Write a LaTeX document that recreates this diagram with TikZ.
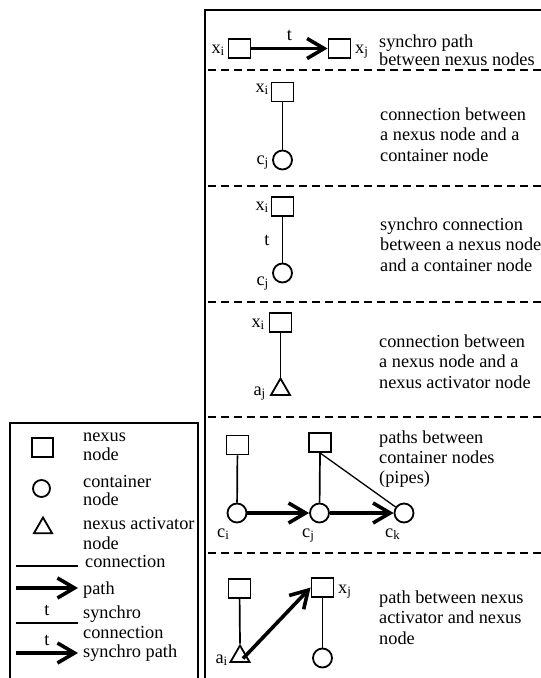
\documentclass[tikz,border=0pt]{standalone}
\usepackage{fontspec}
\setmainfont{Liberation Serif}
\usetikzlibrary{arrows.meta,shapes.geometric}
\begin{document}
\begin{tikzpicture}[x=1pt,y=-1pt,
  font=\fontsize{18.3}{20.5}\selectfont,
  nexus/.style={draw,rectangle,minimum width=22pt,minimum height=19pt,inner sep=0pt,line width=1.8pt},
  cont/.style={draw,circle,minimum size=19pt,inner sep=0pt,line width=1.8pt},
  activ/.style={draw,regular polygon,regular polygon sides=3,minimum size=22pt,inner sep=0pt,line width=1.8pt},
  conn/.style={line width=1.7pt},
  thinconn/.style={line width=1.3pt},
  pathar/.style={line width=3.6pt,-{Straight Barb[length=17pt,width=20pt]}},
  sepline/.style={line width=2.5pt,dash pattern=on 8pt off 5pt},
  framel/.style={line width=1.9pt},
  lbl/.style={inner sep=0pt},
  desctext/.style={inner sep=0pt,align=left,anchor=north west},
]
\useasboundingbox (0,0) rectangle (541,678);

% frames
\draw[framel] (205,678) -- (205,10) -- (541,10);
\draw[framel] (10,678) -- (10,423) -- (198,423) -- (198,678);
\foreach \yy in {70,186,302,417,553} \draw[sepline] (208,\yy) -- (541,\yy);

% section 1
\node[nexus] (x1a) at (239.5,48.5) {};
\node[nexus] (x1b) at (339.5,48.5) {};
\draw[pathar] (x1a) -- node[lbl,above=6pt] (t1) {t} (x1b);
\node[lbl,anchor=base east] (x1al) at (225,53) {x\textsubscript{i}};
\node[lbl,anchor=base west] (x1bl) at (355,53) {x\textsubscript{j}};
\node[desctext] (d1) at (379,34.5) {synchro path\\[-2.5pt]between nexus nodes};

% section 2
\node[nexus] (x2) at (282.5,92) {};
\node[cont] (c2) at (282.5,160) {};
\draw[conn] (x2) -- (c2);
\node[lbl,anchor=base east] (x2l) at (269,92) {x\textsubscript{i}};
\node[lbl,anchor=base east] (c2l) at (269,164) {c\textsubscript{j}};
\node[desctext] (d2) at (380,107.5) {connection between\\a nexus node and a\\container node};

% section 3
\node[nexus] (x3) at (282.5,206.5) {};
\node[cont] (c3) at (282.5,273) {};
\draw[conn] (x3) -- (c3);
\node[lbl,anchor=base] (t3) at (267,245) {t};
\node[lbl,anchor=base east] (x3l) at (269,210) {x\textsubscript{i}};
\node[lbl,anchor=base east] (c3l) at (269,285) {c\textsubscript{j}};
\node[desctext] (d3) at (380,217.5) {synchro connection\\between a nexus node\\and a container node};

% section 4
\node[nexus] (x4) at (280.5,322.5) {};
\node[activ] (a4) at (280.5,389.5) {};
\draw[conn] (x4) -- (a4.north);
\node[lbl,anchor=base east] (x4l) at (265,327) {x\textsubscript{i}};
\node[lbl,anchor=base east] (a4l) at (266,395) {a\textsubscript{j}};
\node[desctext] (d4) at (379,334.5) {connection between\\a nexus node and a\\nexus activator node};

% section 5
\node[nexus] (x5a) at (237.5,445) {};
\node[nexus] (x5b) at (320,442.5) {};
\node[cont] (c5i) at (237,513) {};
\node[cont] (c5j) at (319.5,513) {};
\node[cont] (c5k) at (404,513) {};
\draw[conn] (x5a) -- (c5i);
\draw[conn] (x5b.south) -- (c5j);
\draw[thinconn] (x5b.south) -- (c5k);
\draw[pathar] (c5i) -- (c5j);
\draw[pathar] (c5j) -- (c5k);
\node[lbl,anchor=base west] (c5il) at (217,537) {c\textsubscript{i}};
\node[lbl,anchor=base west] (c5jl) at (302,537) {c\textsubscript{j}};
\node[lbl,anchor=base west] (c5kl) at (385,537) {c\textsubscript{k}};
\node[desctext] (d5) at (379,430.5) {paths between\\[-0.5pt]container nodes\\[-0.5pt](pipes)};

% section 6
\node[nexus] (x6a) at (239.5,588.5) {};
\node[nexus] (x6b) at (322.5,587.5) {};
\node[activ] (a6) at (240,656.5) {};
\node[cont] (c6) at (322.5,658) {};
\draw[conn] (x6a) -- (a6.north);
\draw[conn] (x6b) -- (c6);
\draw[pathar] ([shift={(3,2)}]a6.center) -- (x6b.west);
\node[lbl,anchor=base west] (x6bl) at (338,593) {x\textsubscript{j}};
\node[lbl,anchor=base east] (a6l) at (228,663) {a\textsubscript{i}};
\node[desctext] (d6) at (379,590.5) {path between nexus\\activator and nexus\\node};

% legend
\node[nexus,minimum width=21pt] (lx) at (42.5,447.5) {};
\node[cont,minimum size=17pt] (lc) at (41.5,488.5) {};
\node[activ,minimum size=21pt] (la) at (43,528) {};
\node[desctext] (lxt) at (83,432.5) {nexus\\[-1pt]node};
\node[desctext] (lct) at (83,475) {container\\[-2.5pt]node};
\node[desctext] (lat) at (83,517.5) {nexus activator\\[-0.5pt]node};
\coordinate (l1a) at (16,566);
\coordinate (l1b) at (78,566);
\draw[conn] (l1a) -- (l1b);
\node[lbl,anchor=base west] (l1t) at (85,567) {connection};
\coordinate (l2a) at (16,588);
\coordinate (l2b) at (78,588);
\draw[pathar] (l2a) -- (l2b);
\node[lbl,anchor=base west] (l2t) at (83,594) {path};
\coordinate (l3a) at (16,623);
\coordinate (l3b) at (78,623);
\draw[conn] (l3a) -- node[lbl,above=6pt] (l3s) {t} (l3b);
\node[desctext] (l3t) at (83,605.5) {synchro\\connection};
\coordinate (l4a) at (16,653);
\coordinate (l4b) at (78,653);
\draw[pathar] (l4a) -- node[lbl,above=6pt] (l4s) {t} (l4b);
\node[lbl,anchor=base west] (l4t) at (83,657) {synchro path};
\end{tikzpicture}
\end{document}
